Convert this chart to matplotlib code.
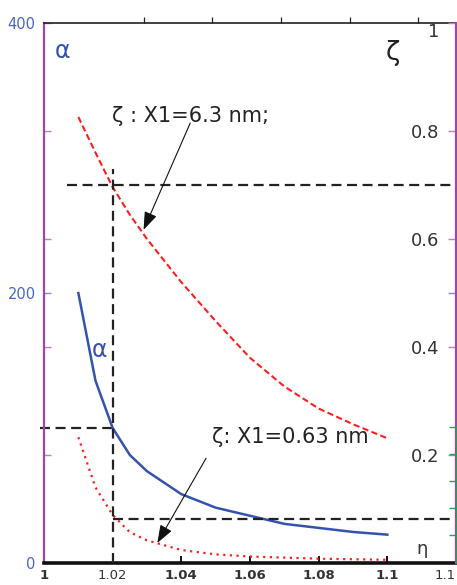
import numpy as np
import matplotlib
matplotlib.use("Agg")
import matplotlib.pyplot as plt

# eta grid and the three curves
eta = [1.01, 1.015, 1.02, 1.025, 1.03, 1.04, 1.05, 1.06, 1.07, 1.08, 1.09, 1.1]
alpha = [200, 135, 100, 80, 68, 51, 41, 35, 29, 26, 23, 21]
zeta_63 = [0.826, 0.760, 0.696, 0.645, 0.600, 0.520, 0.448, 0.380, 0.327, 0.286, 0.257, 0.231]
zeta_063 = [0.233, 0.140, 0.089, 0.057, 0.042, 0.024, 0.016, 0.012, 0.010, 0.008, 0.007, 0.006]

x_ticks = [1.0, 1.02, 1.04, 1.06, 1.08, 1.1, 1.12]
x_labels = ['1', '1.02', '1.04', '1.06', '1.08', '1.1', '1.1']
x_weights = ['bold', 'normal', 'bold', 'bold', 'bold', 'bold', 'normal']
top_ticks = [1.029, 1.049, 1.069, 1.089, 1.109]
alpha_ticks = [0, 200, 400]
alpha_minor = [80, 160, 240, 320]
zeta_ticks = [0.2, 0.4, 0.6, 0.8, 1.0]
zeta_labels = ['0.2', '0.4', '0.6', '0.8', '1']
green_ticks = [0.052, 0.102, 0.152, 0.202, 0.252]

# guide lines
eta_mark = 1.02
zeta_mark_hi = 0.70
zeta_mark_lo = 0.0815
alpha_mark = 100

purple = '#9c48a8'
pink = '#c67ac6'
blue = '#3552b0'
lblue = '#4a68c0'
red = '#ff1e1e'

fig = plt.figure(figsize=(4.57, 5.85), dpi=100)
ax = fig.add_axes([0.0963, 0.0376, 0.9015, 0.923])
ax2 = ax.twinx()
ax3 = ax.twinx()

ax.set_xlim(1.0, 1.12)
ax.set_ylim(0, 400)
ax2.set_ylim(0, 1)
ax3.set_ylim(0, 1)

# curves
ax.plot(eta, alpha, color=blue, lw=1.8, zorder=3)
ax2.plot(eta, zeta_63, color=red, lw=1.5, linestyle=(0, (3, 1.6)))
ax2.plot(eta, zeta_063, color=red, lw=1.6, linestyle=(0, (1, 2)))

# dashed guides
dash = (0, (4.5, 2.5))
ax2.plot([eta_mark, eta_mark], [0, 0.73], color='#222222', lw=1.6, linestyle=dash)
ax2.plot([1.0067, 1.12], [zeta_mark_hi, zeta_mark_hi], color='#222222', lw=1.6, linestyle=dash)
ax2.plot([eta_mark, 1.12], [zeta_mark_lo, zeta_mark_lo], color='#222222', lw=1.6, linestyle=dash)
ax.plot([0.9988, eta_mark], [alpha_mark, alpha_mark], color='#222222', lw=1.6,
        linestyle=dash, clip_on=False)

# spines
ax.spines['left'].set_color(purple)
ax.spines['left'].set_linewidth(1.6)
ax.spines['right'].set_visible(False)
ax.spines['top'].set_color('#222222')
ax.spines['top'].set_linewidth(1.2)
ax.spines['bottom'].set_color('#111111')
ax.spines['bottom'].set_linewidth(2.6)
for s in ['left', 'top', 'bottom']:
    ax2.spines[s].set_visible(False)
    ax3.spines[s].set_visible(False)
ax2.spines['right'].set_color(purple)
ax2.spines['right'].set_linewidth(1.6)
ax3.spines['right'].set_color('#2e9a5a')
ax3.spines['right'].set_linewidth(1.2)
ax3.spines['right'].set_bounds(0, 0.252)
ax3.spines['right'].set_position(('outward', 1))

# x axis
ax.set_xticks(x_ticks)
ax.set_xticklabels(x_labels, fontsize=9.5, color='#333333')
for lab, w in zip(ax.get_xticklabels(), x_weights):
    lab.set_fontweight(w)
ax.get_xticklabels()[-1].set_horizontalalignment('right')
ax.tick_params(axis='x', direction='in', length=5, width=1.4, color='#111111', pad=4)

top = ax.secondary_xaxis('top')
top.set_xticks(top_ticks)
top.set_xticklabels([])
top.tick_params(direction='out', length=4, width=0.9, color='#222222')
top.spines['top'].set_visible(False)

# left alpha axis
ax.set_yticks(alpha_ticks)
ax.set_yticklabels([str(v) for v in alpha_ticks], fontsize=10.5, color=lblue)
ax.set_yticks(alpha_minor, minor=True)
ax.tick_params(axis='y', which='major', direction='in', length=5, width=1, color='#7d8fd0', pad=6)
ax.tick_params(axis='y', which='minor', direction='in', length=5, width=1, color=pink)

# right zeta axis, labels drawn inside the frame
ax2.set_yticks(zeta_ticks)
ax2.set_yticklabels(zeta_labels, fontsize=13, color='#333333')
ax2.set_yticks([0.5], minor=True)
ax2.tick_params(axis='y', which='major', direction='in', length=6, width=1, color=pink, pad=-12)
ax2.tick_params(axis='y', which='minor', direction='in', length=6, width=1, color='#8090d0')
for lab in ax2.get_yticklabels():
    lab.set_horizontalalignment('right')
ax2.get_yticklabels()[-1].set_verticalalignment('top')

ax3.set_yticks(green_ticks)
ax3.set_yticklabels([])
ax3.tick_params(axis='y', direction='in', length=6, width=1, color='#2e9a5a')

# labels and annotations
ax.text(1.0055, 379, 'α', fontsize=17, color=blue, ha='center', va='center')
ax.text(1.0163, 158, 'α', fontsize=17, color=blue, ha='center', va='center')
ax2.text(1.1017, 0.944, 'ζ', fontsize=19, color='#222222', ha='center', va='center')
ax2.text(1.110, 0.026, 'η', fontsize=13, color='#333333', ha='center', va='center')

ax2.text(1.0426, 0.817, 'ζ : X1=6.3 nm;', fontsize=15, color='#222222', ha='center', va='baseline')
ax2.text(1.0716, 0.222, 'ζ: X1=0.63 nm', fontsize=15, color='#222222', ha='center', va='baseline')

arrow = dict(arrowstyle='-|>,head_length=1.1,head_width=0.4', color='#111111', lw=0.8,
             shrinkA=0, shrinkB=0)
ax2.annotate('', xy=(1.029, 0.617), xytext=(1.0426, 0.815), arrowprops=arrow)
ax2.annotate('', xy=(1.033, 0.037), xytext=(1.0472, 0.194), arrowprops=arrow)

fig.savefig('out.png', dpi=100)
